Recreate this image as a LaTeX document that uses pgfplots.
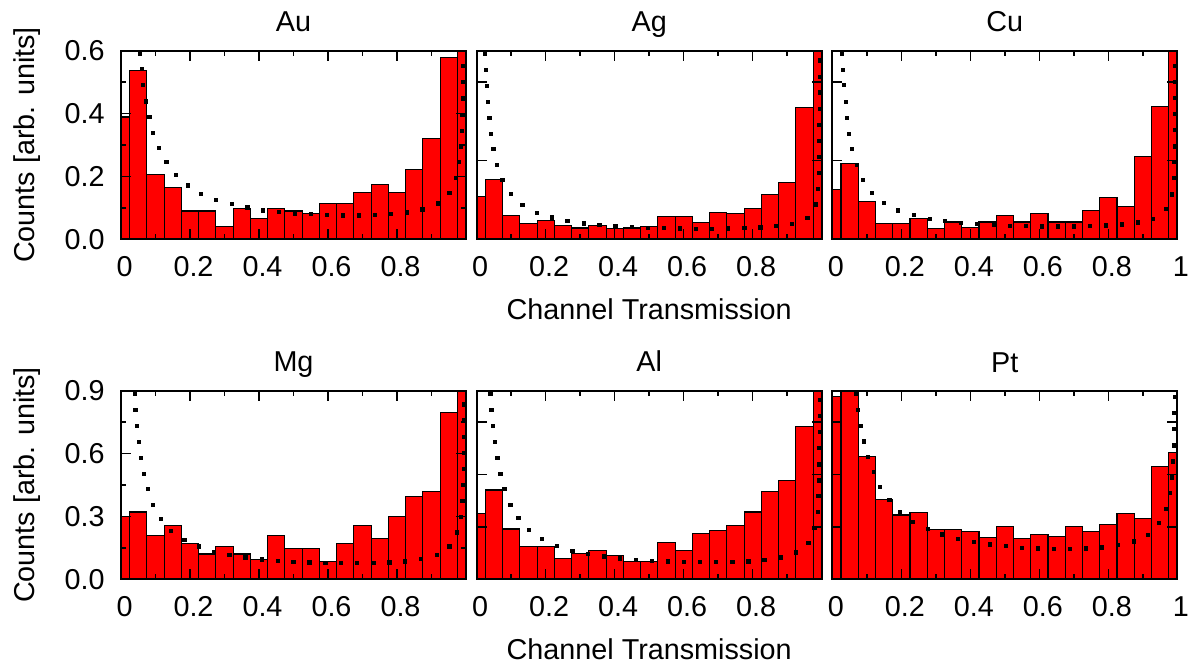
\documentclass[border=0pt]{standalone}
\usepackage{fontspec}
\setmainfont{Liberation Sans}
\usepackage{pgfplots}
\pgfplotsset{compat=1.18}
\newcommand{\fs}{\fontsize{11.5}{13.8}\selectfont}
\pgfplotsset{
  panel/.style={
    scale only axis, width=138pt, height=75.44pt,
    xmin=0, xmax=1,
    axis on top,
    axis line style={line width=0.8pt},
    every tick/.style={black, line width=0.6pt},
    major tick length=4pt, minor tick length=2pt,
    tick align=inside,
    xtick={0,0.2,0.4,0.6,0.8,1},
    minor xtick={0.1,0.3,0.5,0.7,0.9},
    xticklabels={0,0.2,0.4,0.6,0.8,},
    tick label style={font=\fs},
    xticklabel style={anchor=base, yshift=-15pt, xshift=1.4pt},
    yticklabel style={anchor=east, inner sep=0pt, xshift=-6.4pt},
    every axis title shift=0pt,
    title style={font=\fs, at={(axis description cs:0.5,1.0992)}, anchor=base},
    every axis y label/.style={font=\fs, at={(axis description cs:-0.2493,0.5)}, rotate=90, anchor=base},
    every axis x label/.style={font=\fs, at={(axis description cs:0.5,-0.4242)}, anchor=base},
  },
  toprow/.style={ymin=0, ymax=0.6},
  botrow/.style={ymin=0, ymax=0.9},
  bars/.style={ybar, bar width=0.05, fill=red, draw=black, line width=0.45pt},
  dots/.style={only marks, mark=square*, mark size=0.65pt, black, mark options={line width=0.1pt}},
}
\begin{document}
\begin{tikzpicture}
\useasboundingbox (0,0) rectangle (478.4pt,265.6pt);
% ---------------- Au
\begin{axis}[panel, toprow, at={(48.4pt,169.88pt)}, anchor=south west,
  title={Au}, ylabel={Counts [arb. units]},
  ytick={0,0.2,0.4,0.6}, minor ytick={0.1,0.3,0.5},
  yticklabels={0.0,0.2,0.4,0.6}]
\addplot[bars] coordinates {(0,0.389)(0.05,0.537)(0.10,0.206)(0.15,0.166)(0.20,0.090)(0.25,0.090)(0.30,0.040)(0.35,0.098)(0.40,0.065)(0.45,0.098)(0.50,0.090)(0.55,0.082)(0.60,0.115)(0.65,0.115)(0.70,0.148)(0.75,0.173)(0.80,0.148)(0.85,0.223)(0.90,0.321)(0.95,0.577)(1.00,0.65)};
\addplot[dots] coordinates {(0.0538,0.5915)(0.0587,0.5419)(0.0635,0.4912)(0.0721,0.4394)(0.0817,0.3908)(0.0923,0.3401)(0.1096,0.2926)(0.1308,0.2472)(0.1587,0.2060)(0.1923,0.1722)(0.2308,0.1458)(0.2750,0.1268)(0.3202,0.1130)(0.3654,0.1025)(0.4106,0.0930)(0.4567,0.0877)(0.5029,0.0834)(0.5490,0.0813)(0.5962,0.0782)(0.6423,0.0771)(0.6885,0.0771)(0.7346,0.0792)(0.7817,0.0813)(0.8279,0.0866)(0.8731,0.0961)(0.9173,0.1151)(0.9510,0.1479)(0.9692,0.1965)(0.9788,0.2461)(0.9837,0.2968)(0.9865,0.3465)(0.9885,0.3972)(0.9904,0.4489)(0.9913,0.5007)(0.9913,0.5524)};
\end{axis}
% ---------------- Ag
\begin{axis}[panel, toprow, at={(190.68pt,169.88pt)}, anchor=south west,
  title={Ag}, xlabel={Channel Transmission},
  ytick={0.25,0.5}, yticklabels={,,,}]
\addplot[bars] coordinates {(0,0.137)(0.05,0.189)(0.10,0.077)(0.15,0.050)(0.20,0.060)(0.25,0.044)(0.30,0.036)(0.35,0.044)(0.40,0.033)(0.45,0.036)(0.50,0.040)(0.55,0.073)(0.60,0.073)(0.65,0.053)(0.70,0.085)(0.75,0.081)(0.80,0.097)(0.85,0.142)(0.90,0.181)(0.95,0.419)(1.00,0.7)};
\addplot[dots] coordinates {(0.0232,0.5915)(0.0251,0.5398)(0.0290,0.4891)(0.0319,0.4384)(0.0357,0.3877)(0.0406,0.3370)(0.0473,0.2873)(0.0580,0.2377)(0.0734,0.1901)(0.0976,0.1458)(0.1314,0.1099)(0.1729,0.0856)(0.2164,0.0708)(0.2618,0.0602)(0.3092,0.0518)(0.3546,0.0465)(0.4010,0.0433)(0.4483,0.0412)(0.4947,0.0380)(0.5411,0.0370)(0.5874,0.0359)(0.6348,0.0349)(0.6812,0.0349)(0.7275,0.0359)(0.7749,0.0370)(0.8213,0.0391)(0.8676,0.0433)(0.9130,0.0507)(0.9575,0.0697)(0.9816,0.1120)(0.9884,0.1616)(0.9903,0.2123)(0.9913,0.2630)(0.9923,0.3148)(0.9923,0.3655)(0.9932,0.4162)(0.9932,0.4679)(0.9932,0.5186)(0.9932,0.5704)};
\end{axis}
% ---------------- Cu
\begin{axis}[panel, toprow, at={(332.92pt,169.88pt)}, anchor=south west,
  title={Cu}, xticklabels={0,0.2,0.4,0.6,0.8,1},
  ytick={0.25,0.5}, yticklabels={,,,}]
\addplot[bars] coordinates {(0,0.158)(0.05,0.241)(0.10,0.120)(0.15,0.050)(0.20,0.050)(0.25,0.065)(0.30,0.033)(0.35,0.055)(0.40,0.038)(0.45,0.055)(0.50,0.077)(0.55,0.055)(0.60,0.082)(0.65,0.055)(0.70,0.055)(0.75,0.093)(0.80,0.132)(0.85,0.105)(0.90,0.263)(0.95,0.423)(1.00,0.7)};
\addplot[dots] coordinates {(0.0280,0.5915)(0.0300,0.5398)(0.0338,0.4912)(0.0377,0.4384)(0.0415,0.3877)(0.0473,0.3370)(0.0570,0.2873)(0.0696,0.2377)(0.0870,0.1901)(0.1130,0.1489)(0.1478,0.1162)(0.1903,0.0930)(0.2348,0.0782)(0.2812,0.0665)(0.3266,0.0592)(0.3729,0.0528)(0.4193,0.0496)(0.4667,0.0465)(0.5130,0.0444)(0.5594,0.0433)(0.6058,0.0423)(0.6522,0.0423)(0.6995,0.0423)(0.7459,0.0433)(0.7923,0.0454)(0.8386,0.0486)(0.8841,0.0549)(0.9295,0.0665)(0.9662,0.0972)(0.9836,0.1437)(0.9884,0.1954)(0.9903,0.2461)(0.9913,0.2968)(0.9923,0.3486)(0.9923,0.3993)(0.9932,0.4500)(0.9932,0.5007)(0.9932,0.5514)};
\end{axis}
% ---------------- Mg
\begin{axis}[panel, botrow, at={(48.4pt,33.88pt)}, anchor=south west,
  title={Mg}, ylabel={Counts [arb. units]},
  ytick={0,0.3,0.6,0.9}, minor ytick={0.15,0.45,0.75},
  yticklabels={0.0,0.3,0.6,0.9}]
\addplot[bars] coordinates {(0,0.298)(0.05,0.321)(0.10,0.209)(0.15,0.258)(0.20,0.171)(0.25,0.121)(0.30,0.158)(0.35,0.121)(0.40,0.096)(0.45,0.209)(0.50,0.145)(0.55,0.145)(0.60,0.083)(0.65,0.171)(0.70,0.258)(0.75,0.196)(0.80,0.298)(0.85,0.396)(0.90,0.421)(0.95,0.796)(1.00,1.0)};
\addplot[dots] coordinates {(0.0385,0.8849)(0.0413,0.8087)(0.0452,0.7325)(0.0510,0.6563)(0.0577,0.5802)(0.0654,0.5056)(0.0769,0.4310)(0.0923,0.3579)(0.1144,0.2913)(0.1442,0.2325)(0.1827,0.1881)(0.2240,0.1579)(0.2683,0.1325)(0.3135,0.1167)(0.3596,0.1056)(0.4067,0.0960)(0.4529,0.0897)(0.4990,0.0849)(0.5452,0.0817)(0.5913,0.0786)(0.6375,0.0786)(0.6837,0.0786)(0.7308,0.0786)(0.7769,0.0817)(0.8231,0.0865)(0.8692,0.0976)(0.9144,0.1167)(0.9510,0.1579)(0.9731,0.2246)(0.9837,0.2976)(0.9885,0.3754)(0.9904,0.4516)(0.9923,0.5294)(0.9933,0.6056)(0.9942,0.6817)(0.9942,0.7595)(0.9942,0.8357)};
\end{axis}
% ---------------- Al
\begin{axis}[panel, botrow, at={(190.68pt,33.88pt)}, anchor=south west,
  title={Al}, xlabel={Channel Transmission},
  ytick={0.25,0.5,0.75}, yticklabels={,,,}]
\addplot[bars] coordinates {(0,0.313)(0.05,0.426)(0.10,0.240)(0.15,0.158)(0.20,0.158)(0.25,0.099)(0.30,0.123)(0.35,0.137)(0.40,0.115)(0.45,0.085)(0.50,0.085)(0.55,0.174)(0.60,0.137)(0.65,0.218)(0.70,0.233)(0.75,0.256)(0.80,0.321)(0.85,0.418)(0.90,0.471)(0.95,0.729)(1.00,1.0)};
\addplot[dots] coordinates {(0.0386,0.8849)(0.0415,0.8087)(0.0464,0.7325)(0.0512,0.6563)(0.0589,0.5802)(0.0676,0.5040)(0.0792,0.4310)(0.0966,0.3579)(0.1198,0.2929)(0.1507,0.2357)(0.1884,0.1929)(0.2319,0.1611)(0.2763,0.1373)(0.3217,0.1214)(0.3681,0.1103)(0.4145,0.1008)(0.4609,0.0944)(0.5072,0.0897)(0.5536,0.0865)(0.6000,0.0833)(0.6464,0.0833)(0.6928,0.0833)(0.7401,0.0833)(0.7865,0.0865)(0.8329,0.0944)(0.8792,0.1056)(0.9246,0.1294)(0.9604,0.1754)(0.9778,0.2468)(0.9874,0.3214)(0.9894,0.3976)(0.9913,0.4738)(0.9923,0.5500)(0.9923,0.6278)(0.9932,0.7040)(0.9932,0.7802)(0.9942,0.8563)};
\end{axis}
% ---------------- Pt
\begin{axis}[panel, botrow, at={(332.92pt,33.88pt)}, anchor=south west,
  title={Pt}, xticklabels={0,0.2,0.4,0.6,0.8,1},
  ytick={0.25,0.5,0.75}, yticklabels={,,,}]
\addplot[bars] coordinates {(0,0.872)(0.05,0.93)(0.10,0.585)(0.15,0.382)(0.20,0.307)(0.25,0.318)(0.30,0.239)(0.35,0.239)(0.40,0.228)(0.45,0.199)(0.50,0.252)(0.55,0.193)(0.60,0.212)(0.65,0.206)(0.70,0.252)(0.75,0.228)(0.80,0.263)(0.85,0.313)(0.90,0.291)(0.95,0.539)(1.00,0.607)};
\addplot[dots] coordinates {(0.0676,0.8849)(0.0734,0.8103)(0.0812,0.7341)(0.0908,0.6595)(0.1024,0.5849)(0.1188,0.5135)(0.1382,0.4437)(0.1643,0.3802)(0.1961,0.3246)(0.2329,0.2770)(0.2754,0.2405)(0.3179,0.2151)(0.3633,0.1944)(0.4097,0.1786)(0.4560,0.1675)(0.5024,0.1595)(0.5488,0.1516)(0.5952,0.1484)(0.6415,0.1452)(0.6879,0.1452)(0.7353,0.1484)(0.7816,0.1532)(0.8280,0.1643)(0.8734,0.1817)(0.9150,0.2135)(0.9459,0.2690)(0.9662,0.3389)(0.9768,0.4119)(0.9836,0.4881)(0.9874,0.5643)(0.9884,0.6405)(0.9903,0.7183)(0.9903,0.7944)(0.9913,0.8722)};
\end{axis}
\end{tikzpicture}
\end{document}
